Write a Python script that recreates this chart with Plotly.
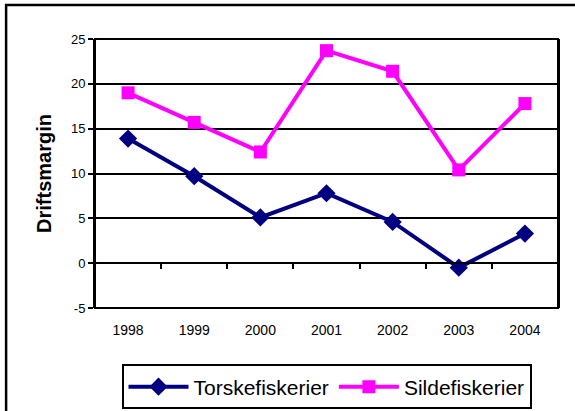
import plotly.graph_objects as go

aar = ["1998", "1999", "2000", "2001", "2002", "2003", "2004"]
torsk = [13.9, 9.7, 5.1, 7.8, 4.6, -0.5, 3.3]
sild = [19.0, 15.7, 12.4, 23.7, 21.4, 10.4, 17.8]
y_ticks = [-5, 0, 5, 10, 15, 20, 25]

font = "Arial, Liberation Sans, sans-serif"

fig = go.Figure()
fig.add_trace(go.Scatter(x=aar, y=torsk, name="Torskefiskerier", mode="lines+markers",
                         line=dict(color="#000080", width=4),
                         marker=dict(symbol="diamond", size=14, color="#000080")))
fig.add_trace(go.Scatter(x=aar, y=sild, name="Sildefiskerier", mode="lines+markers",
                         line=dict(color="#FF00FF", width=4),
                         marker=dict(symbol="square", size=13, color="#FF00FF")))

# x-aksen krysser ved y=0, etikettene står under plottet
fig.update_xaxes(type="category", anchor="free", position=5 / 30, automargin=False,
                 showline=True, linecolor="black", linewidth=2,
                 ticks="outside", tickson="boundaries", ticklen=5, tickwidth=2, tickcolor="black",
                 ticklabelstandoff=54, tickfont=dict(family=font, size=14, color="black"),
                 showgrid=False, zeroline=False, range=[-0.5, 6.5])
fig.update_yaxes(range=[-5, 25], tickvals=y_ticks, ticktext=[str(v) for v in y_ticks],
                 automargin=False, showline=True, mirror=True,
                 linecolor="black", linewidth=2, ticks="outside", ticklen=5, tickwidth=2,
                 tickcolor="black", showgrid=True, gridcolor="black", gridwidth=2,
                 zeroline=False, tickfont=dict(family=font, size=13, color="black"),
                 title=dict(text="<b>Driftsmargin</b>", standoff=14,
                            font=dict(family=font, size=20, color="black")))

fig.update_layout(
    width=575, height=411,
    margin=dict(l=95, r=17, t=39, b=103, autoexpand=False),
    plot_bgcolor="white", paper_bgcolor="white",
    font=dict(family=font, color="black"),
    legend=dict(orientation="h", x=0.5, xanchor="center", y=-0.21, yanchor="top",
                bordercolor="black", borderwidth=2, font=dict(family=font, size=21),
                itemwidth=60),
    shapes=[dict(type="rect", xref="paper", yref="paper", x0=0, x1=1, y0=0, y1=1,
                 line=dict(color="black", width=2), layer="above"),
            dict(type="rect", xref="paper", yref="paper", x0=-0.192, x1=1.08, y0=-0.45, y1=1.126,
                 line=dict(color="black", width=2.5), layer="below")],
)

fig.write_html("out.html", config={"displayModeBar": False},
               post_script="document.body.style.margin='0';")
